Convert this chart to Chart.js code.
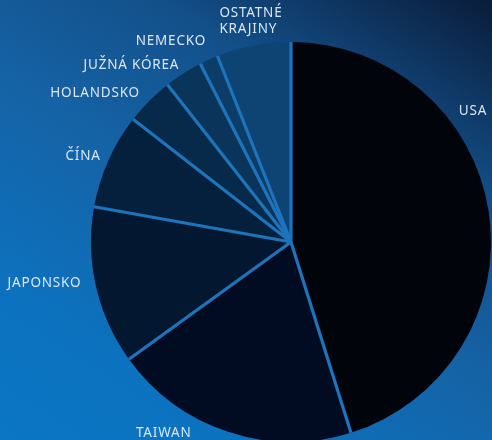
<!DOCTYPE html>
<html>
<head>
<meta charset="utf-8">
<script src="https://cdn.jsdelivr.net/npm/chart.js@4"></script>
<style>
  html, body { margin: 0; padding: 0; }
  body {
    width: 492px; height: 440px; overflow: hidden;
    background: linear-gradient(212deg, #0a1c3a 0%, #13508a 28%, #1563a6 52%, #0c72bf 80%, #0a76c4 100%);
  }
  #wrap { width: 492px; height: 440px; position: relative; }
</style>
</head>
<body>
<div id="wrap"><canvas id="c"></canvas></div>
<script>
// Data
const categories = ['USA', 'TAIWAN', 'JAPONSKO', 'ČÍNA', 'HOLANDSKO', 'JUŽNÁ KÓREA', 'NEMECKO', 'OSTATNÉ KRAJINY'];
const shares = [45.2, 19.9, 12.8, 7.7, 3.9, 3.1, 1.5, 6.0];
const sliceColors = ['#02040c', '#010c22', '#031830', '#04203c', '#072a4b', '#0a345a', '#0b3d68', '#0e4474'];

// label placement (polar: angle in degrees clockwise from top, distance as multiple of radius)
const labelPolar = [
  [54.3, 1.12], [213.6, 1.15], [260.5, 1.25], [292.5, 1.125],
  [307.2, 1.23], [317.9, 1.19], [329.1, 1.17], [349.7, 1.12]
];

const separators = {
  id: 'separators',
  afterDatasetsDraw(chart) {
    const ctx = chart.ctx;
    const meta = chart.getDatasetMeta(0);
    ctx.save();
    ctx.strokeStyle = '#1e74bb';
    ctx.lineWidth = 3.2;
    ctx.lineCap = 'butt';
    meta.data.forEach(arc => {
      const { x, y, startAngle, outerRadius } = arc.getProps(['x', 'y', 'startAngle', 'outerRadius'], true);
      ctx.beginPath();
      ctx.moveTo(x, y);
      ctx.lineTo(x + Math.cos(startAngle) * outerRadius, y + Math.sin(startAngle) * outerRadius);
      ctx.stroke();
    });
    ctx.restore();
  }
};

const outLabels = {
  id: 'outLabels',
  afterDraw(chart) {
    const ctx = chart.ctx;
    const meta = chart.getDatasetMeta(0);
    const arc0 = meta.data[0];
    const { x, y, outerRadius } = arc0.getProps(['x', 'y', 'outerRadius'], true);
    ctx.save();
    ctx.fillStyle = '#dce6f0';
    ctx.font = '400 13.5px "Noto Sans"';
    try { ctx.letterSpacing = '0.8px'; } catch (e) {}
    ctx.textAlign = 'center';
    ctx.textBaseline = 'middle';
    categories.forEach((lab, i) => {
      const [deg, f] = labelPolar[i];
      const a = (deg - 90) * Math.PI / 180;
      const lx = x + Math.cos(a) * outerRadius * f;
      const ly = y + Math.sin(a) * outerRadius * f;
      const parts = lab === 'OSTATNÉ KRAJINY' ? ['OSTATNÉ', 'KRAJINY'] : [lab];
      if (parts.length === 2) {
        ctx.textAlign = 'left';
        const w = ctx.measureText(parts[0]).width;
        ctx.fillText(parts[0], lx - w / 2, ly - 8);
        ctx.fillText(parts[1], lx - w / 2, ly + 8);
        ctx.textAlign = 'center';
      } else {
        ctx.fillText(parts[0], lx, ly);
      }
    });
    ctx.restore();
  }
};

new Chart(document.getElementById('c'), {
  type: 'pie',
  data: {
    labels: categories,
    datasets: [{
      data: shares,
      backgroundColor: sliceColors,
      borderWidth: 0,
      clip: false
    }]
  },
  options: {
    responsive: true,
    maintainAspectRatio: false,
    animation: false,
    radius: 200,
    layout: { padding: { left: 90, right: 0, top: 44, bottom: 0 } },
    plugins: {
      legend: { display: false },
      tooltip: { enabled: false }
    }
  },
  plugins: [separators, outLabels]
});
</script>
</body>
</html>
